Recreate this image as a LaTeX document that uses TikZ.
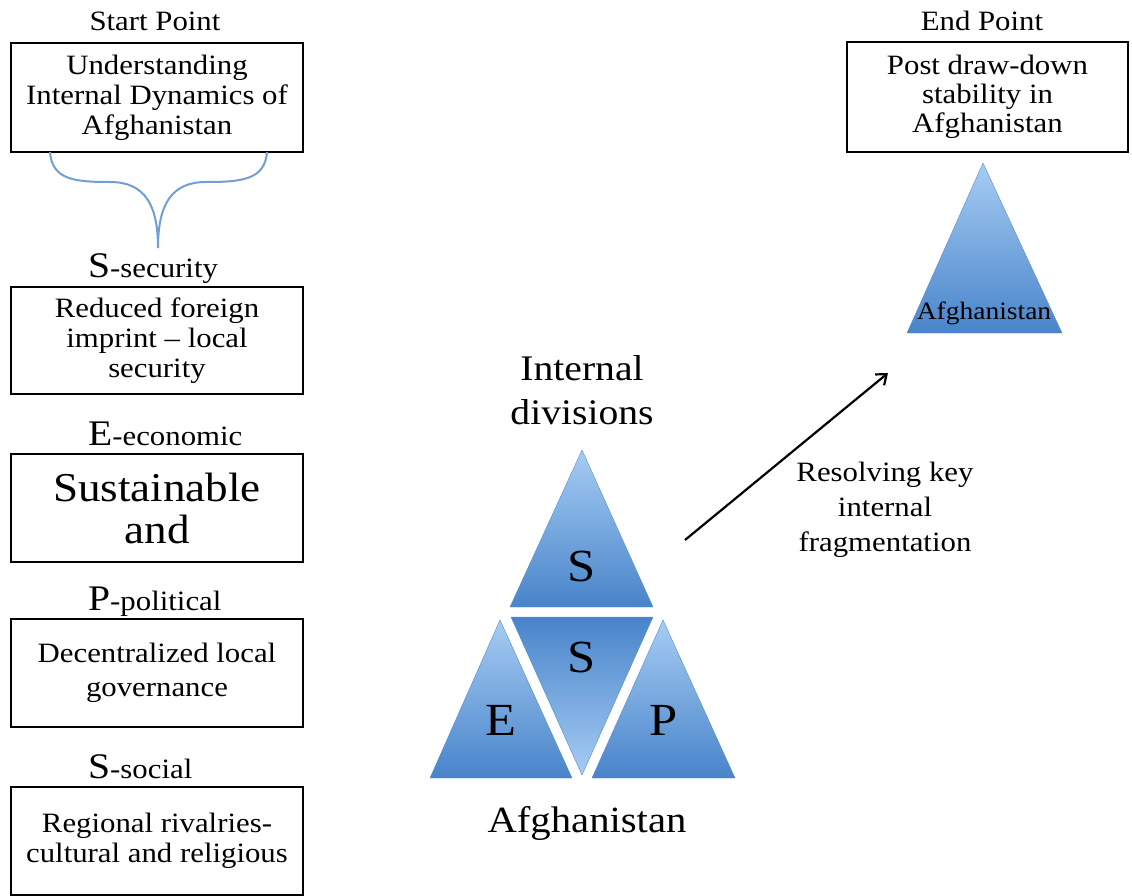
\documentclass[tikz,border=0pt]{standalone}
\usepackage{fontspec}
\setmainfont{Liberation Serif}[FakeStretch=1.1]
\usetikzlibrary{arrows.meta}
\definecolor{triTop}{RGB}{166,204,243}
\definecolor{triBot}{RGB}{72,132,202}
\definecolor{triEdge}{RGB}{90,140,200}
\definecolor{braceBlue}{RGB}{112,160,208}
\begin{document}
\begin{tikzpicture}[x=1pt,y=-1pt,
  box/.style={draw=black, line width=1.3pt, minimum width=292pt, minimum height=108pt, inner sep=0pt, align=center, font=\fontsize{28}{30}\selectfont},
  lbl/.style={font=\fontsize{28}{30}\selectfont, inner sep=0pt, align=center},
  tri/.style={top color=triTop, bottom color=triBot, draw=triEdge, line width=0.4pt},
  invtri/.style={top color=triBot, bottom color=triTop, draw=triEdge, line width=0.4pt},
  letter/.style={font=\fontsize{46}{46}\selectfont, inner sep=0pt},
  bigl/.style={font=\fontsize{36}{36}\selectfont}
]
\useasboundingbox (0,0) rectangle (1132,896);

% left column
\node[lbl, anchor=base] (start) at (155,31) {Start Point};
\node[box, minimum height=109pt] (b1) at (157,97.5) {Understanding\\Internal Dynamics of\\Afghanistan};
\draw[braceBlue, line width=2pt]
  (50,152) .. controls (52,180) and (75,182) .. (110,182)
           .. controls (145,182) and (158,205) .. (158,248);
\draw[braceBlue, line width=2pt]
  (267,152) .. controls (265,180) and (241,182) .. (206,182)
           .. controls (171,182) and (158,205) .. (158,248);

\node[lbl, anchor=base west] (lsec) at (88,277) {{\fontsize{36}{36}\selectfont S}-security};
\node[box, minimum height=107pt] (b2) at (157,340.5) {Reduced foreign\\imprint -- local\\security};

\node[lbl, anchor=base west] (leco) at (88,445) {{\fontsize{36}{36}\selectfont E}-economic};
\node[box, font=\fontsize{41}{42}\selectfont] (b3) at (157,508) {Sustainable\\and};

\node[lbl, anchor=base west] (lpol) at (88,610) {{\fontsize{36}{36}\selectfont P}-political};
\node[box, font=\fontsize{28}{34}\selectfont] (b4) at (157,673) {Decentralized local\\governance};

\node[lbl, anchor=base west] (lsoc) at (88,778) {{\fontsize{36}{36}\selectfont S}-social};
\node[box] (b5) at (157,841) {Regional rivalries-\\cultural and religious};

% center triangles
\node[lbl, font=\fontsize{36}{44}\selectfont] (intdiv) at (582,390) {Internal\\divisions};
\shade[tri] (582,450) -- (653,607) -- (510,607) -- cycle;
\shade[invtri] (511,617) -- (653,617) -- (582,775) -- cycle;
\shade[tri] (500,620) -- (572,778) -- (430,778) -- cycle;
\shade[tri] (663,620) -- (735,778) -- (592,778) -- cycle;
\node[letter] (ts) at (582,566) {S};
\node[letter] (ms) at (582,657) {S};
\node[letter] (te) at (501,720) {E};
\node[letter] (tp) at (664,720) {P};
\node[lbl, font=\fontsize{37}{37}\selectfont, anchor=base] (afg) at (587,832) {Afghanistan};

% arrow
\coordinate (arrS) at (685,540);
\coordinate (arrE) at (888,373);
\draw[line width=2.2pt, -{Straight Barb[length=9pt,width=14pt]}] (arrS) -- (arrE);
\node[lbl, font=\fontsize{28}{35}\selectfont] (resolve) at (885,510) {Resolving key\\internal\\fragmentation};

% right side
\node[lbl, anchor=base] (endp) at (982,31) {End Point};
\node[box, minimum width=281pt, minimum height=110pt, font=\fontsize{28}{29}\selectfont] (b6) at (987.5,97) {Post draw-down\\stability in\\Afghanistan};
\shade[tri] (983,163) -- (1062,333) -- (907,333) -- cycle;
\node[lbl, font=\fontsize{25}{25}\selectfont] (safg) at (984,313) {Afghanistan};
\end{tikzpicture}
\end{document}
